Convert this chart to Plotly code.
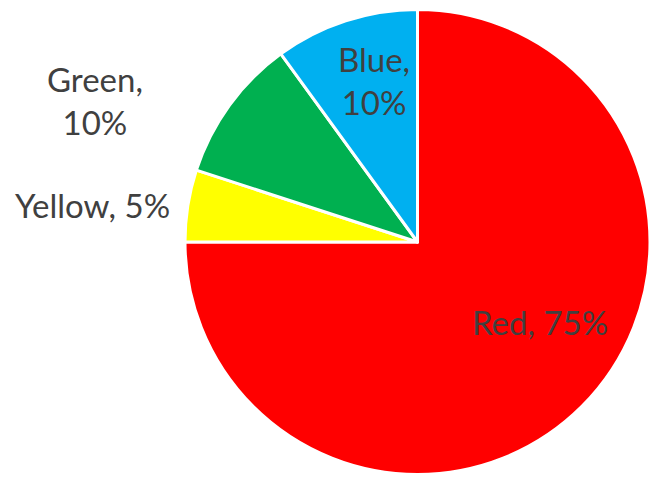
import plotly.graph_objects as go

categories = ["Red", "Yellow", "Green", "Blue"]
values = [75, 5, 10, 10]
colors = ["#FF0000", "#FFFF00", "#00B050", "#00B0F0"]

W, H = 650, 479

fig = go.Figure(go.Pie(
    labels=categories,
    values=values,
    sort=False,
    direction="clockwise",
    rotation=0,
    marker=dict(colors=colors, line=dict(color="white", width=3)),
    textinfo="none",
    hoverinfo="label+percent",
    domain=dict(x=[185 / W, 1.0], y=[3 / H, 471 / H]),
    showlegend=False,
))

total = sum(values)
# label positions (pixel centers) and line-break style
label_pos = {
    "Red": (540, 322, False),
    "Yellow": (92, 205, False),
    "Green": (95, 101, True),
    "Blue": (374, 80, True),
}
annotations = []
for cat, v in zip(categories, values):
    px, py, br = label_pos[cat]
    pct = round(100 * v / total)
    txt = f"{cat},<br>{pct}%" if br else f"{cat}, {pct}%"
    annotations.append(dict(
        x=px / W, y=1 - py / H, xref="paper", yref="paper",
        text=txt, showarrow=False, xanchor="center", yanchor="middle",
        font=dict(family="Lato, 'Open Sans', sans-serif", size=33, color="#404040"),
    ))

fig.update_layout(
    width=W, height=H,
    margin=dict(l=0, r=0, t=0, b=0),
    paper_bgcolor="white",
    plot_bgcolor="white",
    annotations=annotations,
)

fig.write_html(
    "out.html",
    config={"displayModeBar": False},
    post_script="document.body.style.margin='0';document.body.style.overflow='hidden';",
)
